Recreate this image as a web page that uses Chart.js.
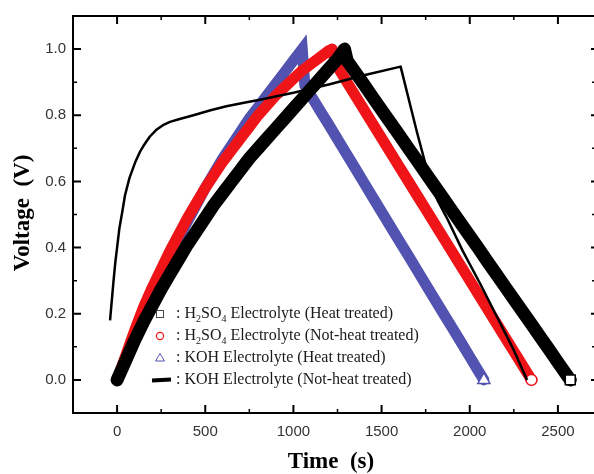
<!DOCTYPE html>
<html><head><meta charset="utf-8">
<script src="https://cdn.jsdelivr.net/npm/chart.js@4.4.0/dist/chart.umd.min.js"></script>
<style>
html,body{margin:0;padding:0;background:#fff;overflow:hidden;width:594px;height:474px}
#wrap{position:absolute;left:0;top:0;width:620px;height:474px}
</style>
</head><body><div id="wrap"><canvas id="c" width="620" height="474"></canvas></div>
<script>
// ---- tick values ----
const xMajorTicks = [0, 500, 1000, 1500, 2000, 2500];
const xMinorTicks = [250, 750, 1250, 1750, 2250];
const yMajorTicks = [0, 0.2, 0.4, 0.6, 0.8, 1.0];
const yMinorTicks = [0.1, 0.3, 0.5, 0.7, 0.9];

// ---- series names (_d = subscript digit) ----
const seriesNames = [
  "H_2SO_4 Electrolyte (Heat treated)",
  "H_2SO_4 Electrolyte (Not-heat treated)",
  "KOH Electrolyte (Heat treated)",
  "KOH Electrolyte (Not-heat treated)"
];

// ---- H2SO4, heat treated (black squares) ----
const h2so4HeatTime = [0,50,100,150,200,250,300,350,400,450,500,550,600,650,700,750,800,850,900,950,1000,1050,1100,1150,1200,1250,1290,
  1305,1350,1400,1450,1500,1550,1600,1650,1700,1750,1800,1850,1900,1950,2000,2050,2100,2150,2200,2250,2300,2350,2400,2450,2500,2550,2570];
const h2so4HeatVolt = [0,0.06,0.12,0.175,0.225,0.275,0.32,0.365,0.41,0.45,0.49,0.53,0.565,0.6,0.635,0.67,0.7,0.73,0.76,0.79,0.82,0.85,0.88,0.91,0.94,0.97,1.0,
  0.965,0.931,0.893,0.854,0.816,0.778,0.740,0.702,0.664,0.625,0.587,0.549,0.511,0.473,0.435,0.397,0.358,0.320,0.282,0.244,0.206,0.168,0.130,0.092,0.053,0.015,0.0];

// ---- H2SO4, not-heat treated (red circles) ----
const h2so4RawTime = [0,50,100,150,200,250,300,350,400,450,500,550,600,650,700,750,800,850,900,950,1000,1050,1100,1150,1200,1220,
  1240,1300,1350,1400,1450,1500,1550,1600,1650,1700,1750,1800,1850,1900,1950,2000,2050,2100,2150,2200,2250,2300,2350];
const h2so4RawVolt = [0,0.075,0.15,0.22,0.28,0.335,0.39,0.44,0.49,0.535,0.58,0.62,0.66,0.695,0.73,0.765,0.8,0.83,0.86,0.885,0.91,0.935,0.955,0.975,0.995,1.0,
  0.955,0.903,0.860,0.817,0.774,0.731,0.688,0.645,0.602,0.559,0.516,0.473,0.430,0.387,0.344,0.301,0.258,0.215,0.172,0.129,0.086,0.043,0.0];

// ---- KOH, heat treated (blue triangles) ----
const kohHeatTime = [0,50,100,150,200,250,300,350,400,450,500,550,600,650,700,750,800,850,900,950,1000,1050,
  1065,1100,1150,1200,1250,1300,1350,1400,1450,1500,1550,1600,1650,1700,1750,1800,1850,1900,1950,2000,2050,2080];
const kohHeatVolt = [0,0.07,0.135,0.2,0.26,0.32,0.375,0.43,0.48,0.53,0.58,0.625,0.67,0.71,0.75,0.79,0.825,0.86,0.895,0.93,0.965,1.0,
  0.89,0.859,0.815,0.772,0.728,0.684,0.640,0.596,0.552,0.508,0.464,0.420,0.377,0.333,0.289,0.245,0.201,0.158,0.114,0.070,0.026,0.0];

// ---- KOH, not-heat treated (black line) ----
const kohRawTime = [-40,-30,-20,-10,0,13,30,45,70,102,130,149,185,225,260,300,350,433,530,620,720,810,1000,1200,1400,1608,
  1700,1775,1820,1870,1960,2060,2160,2250,2325];
const kohRawVolt = [0.18,0.24,0.30,0.355,0.40,0.458,0.51,0.558,0.61,0.657,0.69,0.707,0.735,0.757,0.77,0.78,0.788,0.80,0.815,0.827,0.838,0.847,0.868,0.893,0.921,0.947,
  0.75,0.60,0.54,0.49,0.39,0.29,0.185,0.09,0.0];

const BLUE = '#5252b0', RED = '#ee1418', BLACK = '#000000';

function pts(t, v) { return t.map((x, i) => ({ x: x, y: v[i] })); }

function band(name, t, v, color, style, width, order, join, endR) {
  const data = pts(t, v);
  const last = data.length - 1;
  return {
    label: name, data: data, order: order, showLine: true,
    borderColor: color, borderWidth: width, borderJoinStyle: join, borderCapStyle: 'round',
    pointStyle: style,
    pointRadius: c => c.dataIndex === last ? endR : 0,
    pointBorderWidth: 1.5,
    pointBorderColor: color,
    pointBackgroundColor: '#ffffff',
    pointHoverRadius: 0, tension: 0
  };
}

const datasets = [
  band(seriesNames[0], h2so4HeatTime, h2so4HeatVolt, BLACK, 'rect', 13, 1, 'round', 7),
  band(seriesNames[1], h2so4RawTime, h2so4RawVolt, RED, 'circle', 11, 2, 'round', 5.5),
  band(seriesNames[2], kohHeatTime, kohHeatVolt, BLUE, 'triangle', 11, 3, 'miter', 7),
  { label: seriesNames[3], data: pts(kohRawTime, kohRawVolt), order: 0, showLine: true,
    borderColor: BLACK, borderWidth: 2.5, pointRadius: 0, pointHoverRadius: 0, tension: 0, borderJoinStyle: 'round' }
];

const serif = "'Liberation Serif','Times New Roman',serif";

const decor = {
  id: 'decor',
  afterDatasetsDraw(chart) {
    const ctx = chart.ctx, a = chart.chartArea;
    const xs = chart.scales.x, ys = chart.scales.y;
    ctx.save();
    ctx.strokeStyle = '#000'; ctx.lineWidth = 2;
    ctx.strokeRect(a.left, a.top, a.right - a.left, a.bottom - a.top);
    function tickX(v, len, w) {
      const p = xs.getPixelForValue(v);
      ctx.lineWidth = w;
      ctx.beginPath(); ctx.moveTo(p, a.bottom); ctx.lineTo(p, a.bottom - len);
      ctx.moveTo(p, a.top); ctx.lineTo(p, a.top + len); ctx.stroke();
    }
    function tickY(v, len, w, rlen) {
      const p = ys.getPixelForValue(v);
      ctx.lineWidth = w;
      ctx.beginPath(); ctx.moveTo(a.left, p); ctx.lineTo(a.left + len, p);
      ctx.moveTo(a.right, p); ctx.lineTo(a.right - rlen, p); ctx.stroke();
    }
    xMajorTicks.forEach(v => tickX(v, 8, 2));
    xMinorTicks.forEach(v => tickX(v, 4, 1.5));
    yMajorTicks.forEach(v => tickY(v, 8, 2, 11));
    yMinorTicks.forEach(v => tickY(v, 4, 1.5, 10));

    // legend
    const lx = 160, rows = [314, 336, 358, 380];
    ctx.lineWidth = 1; ctx.strokeStyle = '#444';
    ctx.strokeRect(lx - 3.5, rows[0] - 3.5, 7, 7);
    ctx.strokeStyle = RED; ctx.lineWidth = 1.2;
    ctx.beginPath(); ctx.arc(lx, rows[1], 3.6, 0, Math.PI * 2); ctx.stroke();
    ctx.strokeStyle = BLUE; ctx.lineWidth = 1;
    ctx.beginPath(); ctx.moveTo(lx, rows[2] - 4.5); ctx.lineTo(lx + 4.5, rows[2] + 3); ctx.lineTo(lx - 4.5, rows[2] + 3); ctx.closePath(); ctx.stroke();
    ctx.strokeStyle = '#000'; ctx.lineWidth = 4;
    ctx.beginPath(); ctx.moveTo(lx - 8, rows[3] + 0.5); ctx.lineTo(lx + 11, rows[3] - 0.5); ctx.stroke();

    ctx.fillStyle = '#1a1a1a'; ctx.textBaseline = 'middle'; ctx.textAlign = 'left';
    seriesNames.forEach((name, i) => {
      let x = 176;
      const y = rows[i];
      const parts = (': ' + name).split(/_(\d)/);
      parts.forEach((p, k) => {
        if (!p) return;
        if (k % 2) { ctx.font = '10px ' + serif; ctx.fillText(p, x, y + 5); }
        else { ctx.font = '16px ' + serif; ctx.fillText(p, x, y); }
        x += ctx.measureText(p).width;
      });
    });

    // axis titles
    ctx.fillStyle = '#000';
    ctx.font = 'bold 23px ' + serif;
    ctx.textAlign = 'center'; ctx.textBaseline = 'middle';
    ctx.fillText('Time  (s)', 331, 462);
    ctx.translate(23, 213); ctx.rotate(-Math.PI / 2);
    ctx.fillText('Voltage  (V)', 0, 0);
    ctx.restore();
  }
};

new Chart(document.getElementById('c'), {
  type: 'line',
  data: { datasets: datasets },
  options: {
    responsive: false, animation: false, devicePixelRatio: 1,
    layout: { padding: { left: 0, right: 18, top: 12, bottom: 0 } },
    plugins: { legend: { display: false }, tooltip: { enabled: false } },
    scales: {
      x: {
        type: 'linear', min: -250, max: 2750,
        grid: { display: false, drawTicks: false }, border: { display: false },
        afterBuildTicks: s => { s.ticks = xMajorTicks.map(v => ({ value: v })); },
        afterFit: s => { s.height = 61; },
        ticks: { padding: 10, color: '#333', font: { family: "'Liberation Sans',Arial,sans-serif", size: 15 }, callback: v => String(v) }
      },
      y: {
        type: 'linear', min: -0.1, max: 1.1,
        grid: { display: false, drawTicks: false }, border: { display: false },
        afterBuildTicks: s => { s.ticks = yMajorTicks.map(v => ({ value: v })); },
        afterFit: s => { s.width = 73; },
        ticks: { padding: 7, color: '#333', font: { family: "'Liberation Sans',Arial,sans-serif", size: 15 }, callback: v => Number(v).toFixed(1) }
      }
    }
  },
  plugins: [decor]
});
</script>
</body></html>
